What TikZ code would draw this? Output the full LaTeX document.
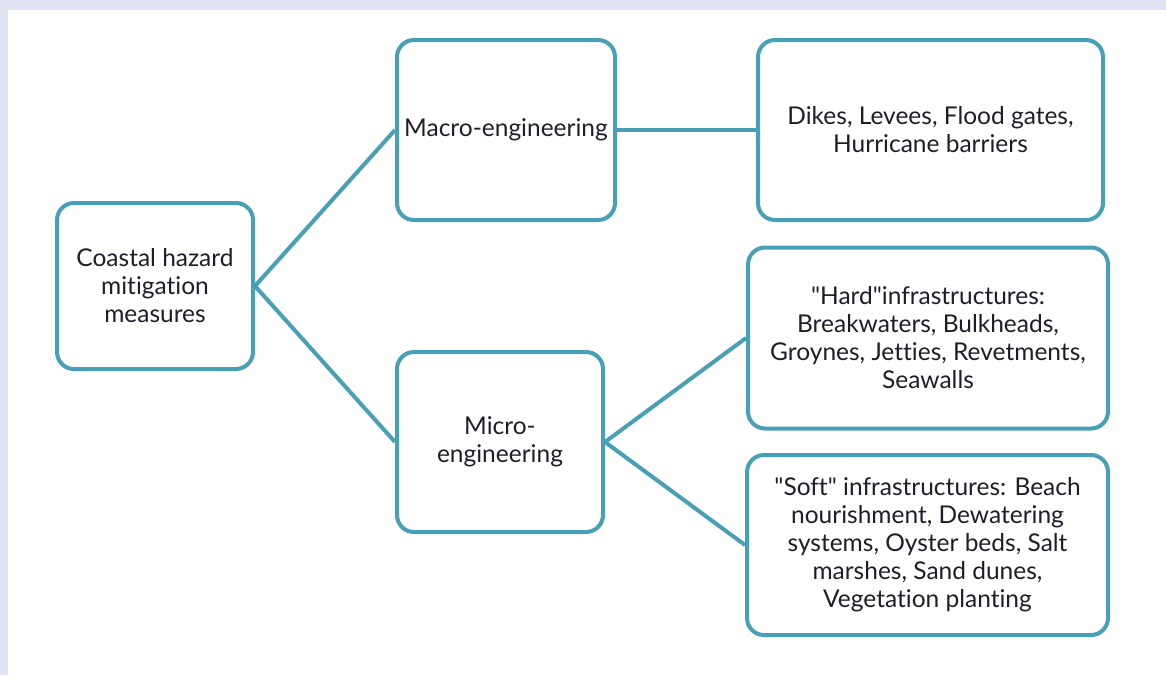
\documentclass[tikz,border=0pt]{standalone}
\usepackage{fontspec}
\setmainfont{Lato}[Ligatures={NoCommon,TeXOff}]
\definecolor{frame}{HTML}{E0E3F1}
\definecolor{boxline}{HTML}{48A0B8}
\definecolor{ink}{HTML}{1E1E2A}
\begin{document}
\begin{tikzpicture}[x=1pt,y=-1pt,
  box/.style={draw=boxline, line width=4pt, rounded corners=17pt, fill=white,
    inner sep=0pt, align=center, text=ink,
    font=\fontsize{24.5}{28}\selectfont},
  link/.style={draw=boxline, line width=4pt}]
  % page frame: lavender band along the top and left edges
  \fill[frame] (0,0) rectangle (1166,675);
  \fill[white] (8,10) rectangle (1166,675);
  \useasboundingbox (0,0) rectangle (1166,675);

  \node[box, minimum width=196pt, minimum height=166pt] (coastal) at (155,286)
    {Coastal hazard\\mitigation\\measures};
  \node[box, minimum width=218pt, minimum height=180pt] (macro) at (506,130)
    {Macro-engineering};
  \node[box, minimum width=206pt, minimum height=180pt] (micro) at (500,442)
    {Micro-\\engineering};
  \node[box, minimum width=345pt, minimum height=180pt] (dikes) at (930.5,130)
    {Dikes, Levees, Flood gates,\\Hurricane barriers};
  \node[box, minimum width=360pt, minimum height=181pt] (hard) at (928,338)
    {"Hard"infrastructures:\\Breakwaters, Bulkheads,\\Groynes, Jetties, Revetments,\\Seawalls};
  \node[box, minimum width=361pt, minimum height=180pt] (soft) at (927.5,545)
    {"Soft" infrastructures: Beach\\nourishment, Dewatering\\systems, Oyster beds, Salt\\marshes, Sand dunes,\\Vegetation planting};

  \draw[link] (coastal.east) -- (macro.west);
  \draw[link] (coastal.east) -- (micro.west);
  \draw[link] (macro.east) -- (dikes.west);
  \draw[link] (micro.east) -- (hard.west);
  \draw[link] (micro.east) -- (soft.west);
\end{tikzpicture}
\end{document}
